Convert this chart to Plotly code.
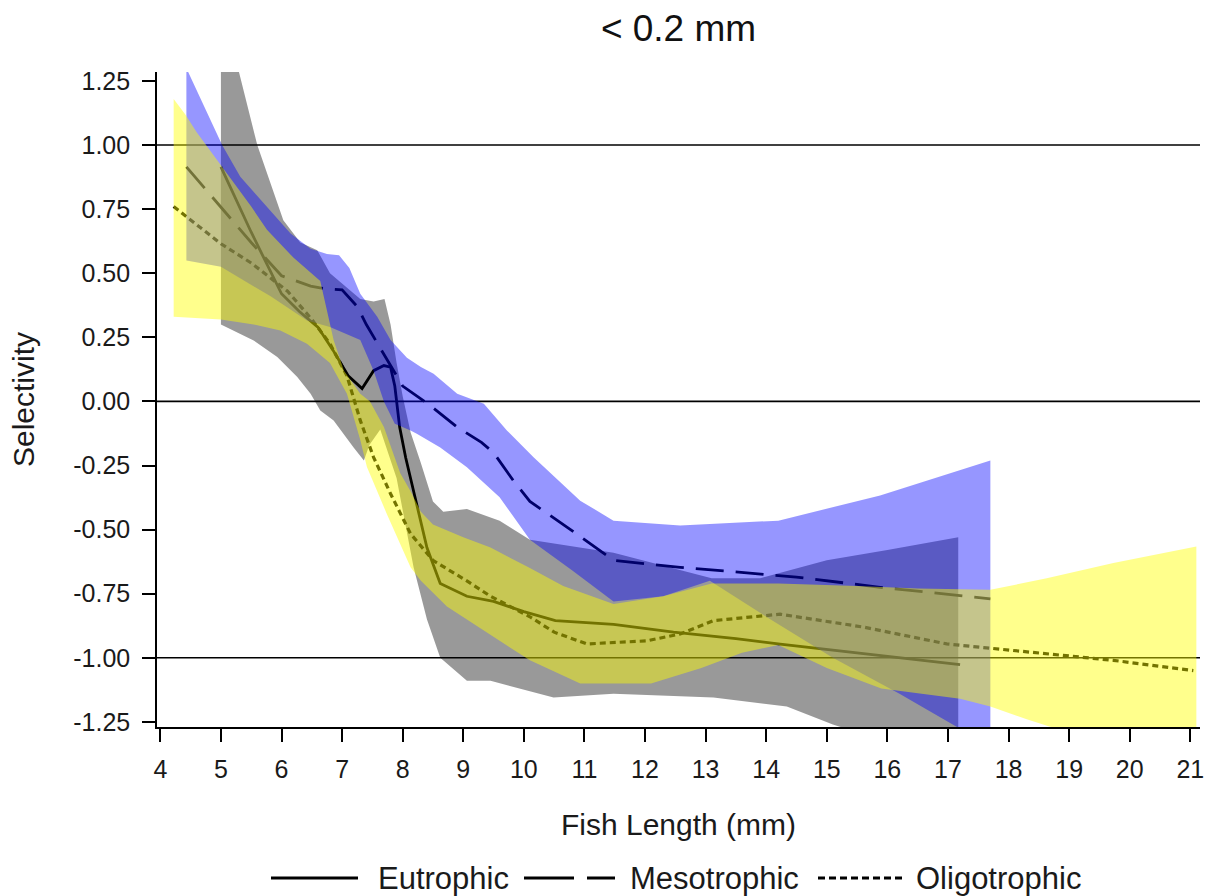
import plotly.graph_objects as go

# ---------------- data ----------------
# Fitted selectivity curves
EU_X = [5.0, 5.5, 6.0, 6.3, 6.6, 6.85, 7.1, 7.33, 7.52, 7.69, 7.8, 7.87, 7.95, 8.05, 8.2, 8.4, 8.62, 9.06, 9.5, 10.0, 10.52, 11.48, 12.47, 13.5, 14.23, 15.5, 17.2]
EU_Y = [0.915, 0.66, 0.42, 0.35, 0.29, 0.20, 0.10, 0.05, 0.12, 0.14, 0.134, 0.06, -0.10, -0.22, -0.37, -0.57, -0.71, -0.76, -0.78, -0.82, -0.855, -0.87, -0.90, -0.925, -0.947, -0.98, -1.027]

ME_X = [4.43, 5.0, 5.5, 6.0, 6.48, 6.7, 7.0, 7.25, 7.4, 7.6, 7.85, 8.0, 8.45, 8.9, 9.3, 9.5, 9.83, 10.1, 10.77, 11.48, 12.58, 14.5, 15.88, 17.7]
ME_Y = [0.915, 0.76, 0.62, 0.49, 0.45, 0.44, 0.435, 0.37, 0.30, 0.22, 0.12, 0.06, -0.015, -0.10, -0.16, -0.20, -0.31, -0.39, -0.50, -0.62, -0.647, -0.685, -0.725, -0.77]

OL_X = [4.22, 5.0, 5.5, 6.1, 6.5, 6.8, 7.08, 7.3, 7.52, 7.8, 8.13, 8.5, 9.06, 9.45, 10.1, 10.5, 11.04, 12.03, 12.58, 13.13, 14.23, 15.6, 16.98, 18.63, 19.73, 21.05]
OL_Y = [0.76, 0.615, 0.54, 0.43, 0.32, 0.225, 0.10, -0.074, -0.218, -0.36, -0.516, -0.62, -0.70, -0.76, -0.84, -0.90, -0.946, -0.934, -0.907, -0.855, -0.83, -0.88, -0.946, -0.986, -1.01, -1.05]

# Confidence bands: upper and lower limits
EU_UP_X = [5.0, 5.25, 5.6, 6.03, 6.31, 6.59, 6.8, 7.08, 7.3, 7.52, 7.7, 7.8, 7.9, 8.0, 8.13, 8.3, 8.5, 8.67, 9.06, 9.6, 10.1, 11.48, 13.1, 13.9, 15.0, 16.0, 17.17]
EU_UP_Y = [1.55, 1.33, 1.0, 0.707, 0.62, 0.59, 0.50, 0.446, 0.40, 0.39, 0.40, 0.30, 0.15, 0.02, -0.12, -0.24, -0.39, -0.43, -0.42, -0.465, -0.54, -0.59, -0.69, -0.69, -0.62, -0.58, -0.53]
EU_LO_X = [5.0, 5.54, 5.93, 6.26, 6.48, 6.64, 6.86, 7.19, 7.36, 7.45, 7.63, 7.9, 8.18, 8.4, 8.62, 9.06, 9.45, 10.49, 11.48, 13.13, 14.34, 15.1, 16.0, 17.17]
EU_LO_Y = [0.30, 0.238, 0.173, 0.095, 0.03, -0.035, -0.074, -0.18, -0.23, -0.17, -0.11, -0.30, -0.647, -0.85, -1.0, -1.09, -1.09, -1.155, -1.14, -1.155, -1.19, -1.26, -1.33, -1.42]

ME_UP_X = [4.43, 5.02, 5.32, 5.76, 6.15, 6.48, 6.75, 6.95, 7.12, 7.3, 7.58, 7.8, 8.07, 8.3, 8.51, 8.9, 9.34, 9.72, 10.16, 10.93, 11.48, 12.58, 14.2, 15.88, 17.7]
ME_UP_Y = [1.30, 1.0, 0.876, 0.76, 0.655, 0.596, 0.575, 0.57, 0.52, 0.42, 0.33, 0.24, 0.17, 0.134, 0.108, 0.03, -0.009, -0.113, -0.218, -0.387, -0.465, -0.484, -0.465, -0.367, -0.23]
ME_LO_X = [4.43, 5.0, 5.82, 6.42, 6.8, 7.3, 7.52, 7.69, 7.87, 8.13, 8.24, 8.62, 9.06, 9.6, 9.83, 10.1, 10.8, 11.48, 12.3, 13.07, 14.0, 15.1, 16.2, 17.15, 17.7]
ME_LO_Y = [0.55, 0.525, 0.41, 0.316, 0.29, 0.24, 0.12, 0.0, -0.087, -0.113, -0.127, -0.18, -0.257, -0.374, -0.45, -0.54, -0.66, -0.78, -0.76, -0.70, -0.84, -1.0, -1.14, -1.27, -1.35]

OL_UP_X = [4.22, 4.41, 4.6, 5.0, 5.5, 5.76, 6.2, 6.64, 6.75, 6.86, 7.03, 7.3, 7.46, 7.69, 7.96, 8.13, 8.3, 8.5, 9.0, 9.45, 10.1, 10.65, 11.48, 12.3, 13.1, 14.2, 15.5, 16.5, 17.7, 18.63, 19.73, 21.1]
OL_UP_Y = [1.18, 1.12, 1.05, 0.92, 0.76, 0.67, 0.56, 0.47, 0.35, 0.24, 0.12, 0.03, 0.0, -0.10, -0.28, -0.35, -0.43, -0.48, -0.53, -0.57, -0.65, -0.72, -0.79, -0.76, -0.71, -0.71, -0.72, -0.73, -0.735, -0.69, -0.63, -0.566]
OL_LO_X = [4.22, 5.0, 5.54, 5.98, 6.42, 6.8, 7.08, 7.3, 7.41, 7.74, 8.13, 8.3, 8.73, 9.45, 10.1, 10.93, 12.1, 12.93, 13.6, 14.2, 15.0, 15.9, 17.2, 17.7, 18.3, 19.5, 21.1]
OL_LO_Y = [0.33, 0.32, 0.30, 0.277, 0.225, 0.15, 0.03, -0.15, -0.256, -0.44, -0.647, -0.70, -0.80, -0.91, -1.01, -1.10, -1.10, -1.04, -0.98, -0.95, -1.04, -1.12, -1.16, -1.19, -1.24, -1.33, -1.46]

SERIES = ["Eutrophic", "Mesotrophic", "Oligotrophic"]
REF_LINES = [1.0, 0.0, -1.0]
X_TICKS = list(range(4, 22))
Y_TICKS = [-1.25, -1.0, -0.75, -0.5, -0.25, 0.0, 0.25, 0.5, 0.75, 1.0, 1.25]

TITLE = "&lt; 0.2 mm"
X_TITLE = "Fish Length (mm)"
Y_TITLE = "Selectivity"

# ---------------- styles / layout ----------------
W, H = 1206, 896
ML, MR, MT, MB = 157, 6, 72, 169
PW, PH = W - ML - MR, H - MT - MB

FONT = "Liberation Sans, Arial, Helvetica, sans-serif"
DASHES = {"Eutrophic": "solid", "Mesotrophic": "28px,12px", "Oligotrophic": "6px,4px"}
WIDTHS = {"Eutrophic": 2.8, "Mesotrophic": 2.8, "Oligotrophic": 3.2}
LEGEND_DASHES = {"Eutrophic": "solid", "Mesotrophic": "50px,13px", "Oligotrophic": "7px,4px"}
BAND_COLORS = {"Eutrophic": "rgba(0,0,0,0.40)",
               "Mesotrophic": "rgba(0,0,255,0.41)",
               "Oligotrophic": "rgba(255,255,0,0.45)"}
# legend layout in page pixels: (sample start, sample end, text start)
LEGEND_PX = {"Eutrophic": (271, 358, 376),
             "Mesotrophic": (524, 615, 628),
             "Oligotrophic": (818, 904, 914)}
LEGEND_Y_PX = 878

curves = {"Eutrophic": (EU_X, EU_Y), "Mesotrophic": (ME_X, ME_Y), "Oligotrophic": (OL_X, OL_Y)}
bands = {"Eutrophic": (EU_UP_X, EU_UP_Y, EU_LO_X, EU_LO_Y),
         "Mesotrophic": (ME_UP_X, ME_UP_Y, ME_LO_X, ME_LO_Y),
         "Oligotrophic": (OL_UP_X, OL_UP_Y, OL_LO_X, OL_LO_Y)}

fig = go.Figure()

# lines first (the translucent bands are drawn over them, as in the original)
for name in SERIES:
    x, y = curves[name]
    fig.add_trace(go.Scatter(
        x=x, y=y, mode="lines", name=name, showlegend=False,
        line=dict(color="black", width=WIDTHS[name], dash=DASHES[name]),
        hoverinfo="skip"))

for name in SERIES:
    ux, uy, lx, ly = bands[name]
    fig.add_trace(go.Scatter(
        x=list(ux) + list(lx)[::-1], y=list(uy) + list(ly)[::-1],
        mode="lines", fill="toself", fillcolor=BAND_COLORS[name],
        line=dict(width=0), showlegend=False, hoverinfo="skip",
        name=name + " band"))

for v in REF_LINES:
    fig.add_shape(type="line", xref="paper", x0=0, x1=1, yref="y", y0=v, y1=v,
                  line=dict(color="black", width=1.6), layer="below")

# legend drawn below the x-axis title (long line samples, as in the original)
def px_to_paper_x(px):
    return (px - ML) / PW

def py_to_paper_y(py):
    return (H - MB - py) / PH

ly = py_to_paper_y(LEGEND_Y_PX)
for name in SERIES:
    s0, s1, t0 = LEGEND_PX[name]
    fig.add_shape(type="line", xref="paper", yref="paper",
                  x0=px_to_paper_x(s0), x1=px_to_paper_x(s1), y0=ly, y1=ly,
                  line=dict(color="black", width=3, dash=LEGEND_DASHES[name]))
    fig.add_annotation(text=name, xref="paper", yref="paper",
                       x=px_to_paper_x(t0), y=ly, xanchor="left", yanchor="middle",
                       showarrow=False, font=dict(size=31, color="#1a1a1a"))

fig.update_layout(
    width=W, height=H,
    margin=dict(l=ML, r=MR, t=MT, b=MB, autoexpand=False),
    paper_bgcolor="white", plot_bgcolor="white",
    font=dict(family=FONT, color="#1a1a1a"),
    title=dict(text=TITLE, x=0.5, xref="paper", xanchor="center",
               y=1 - 28 / H, yref="container", yanchor="middle",
               font=dict(size=37, color="#111")),
    showlegend=False,
)

fig.update_xaxes(
    range=[3.945, 21.16], tickmode="array", tickvals=X_TICKS,
    ticktext=[str(t) for t in X_TICKS],
    ticks="outside", ticklen=13, tickwidth=1.6, tickcolor="black",
    showline=True, linewidth=1.6, linecolor="black",
    showgrid=False, zeroline=False,
    tickfont=dict(size=25), ticklabelstandoff=6,
    title=dict(text=X_TITLE, font=dict(size=30), standoff=32))

fig.update_yaxes(
    range=[-1.27, 1.285], tickmode="array", tickvals=Y_TICKS,
    ticktext=["%.2f" % t for t in Y_TICKS],
    ticks="outside", ticklen=13, tickwidth=1.6, tickcolor="black",
    showline=True, linewidth=1.6, linecolor="black",
    showgrid=False, zeroline=False,
    tickfont=dict(size=25), ticklabelstandoff=7,
    title=dict(text=Y_TITLE, font=dict(size=30), standoff=30))

fig.write_html("out.html")
